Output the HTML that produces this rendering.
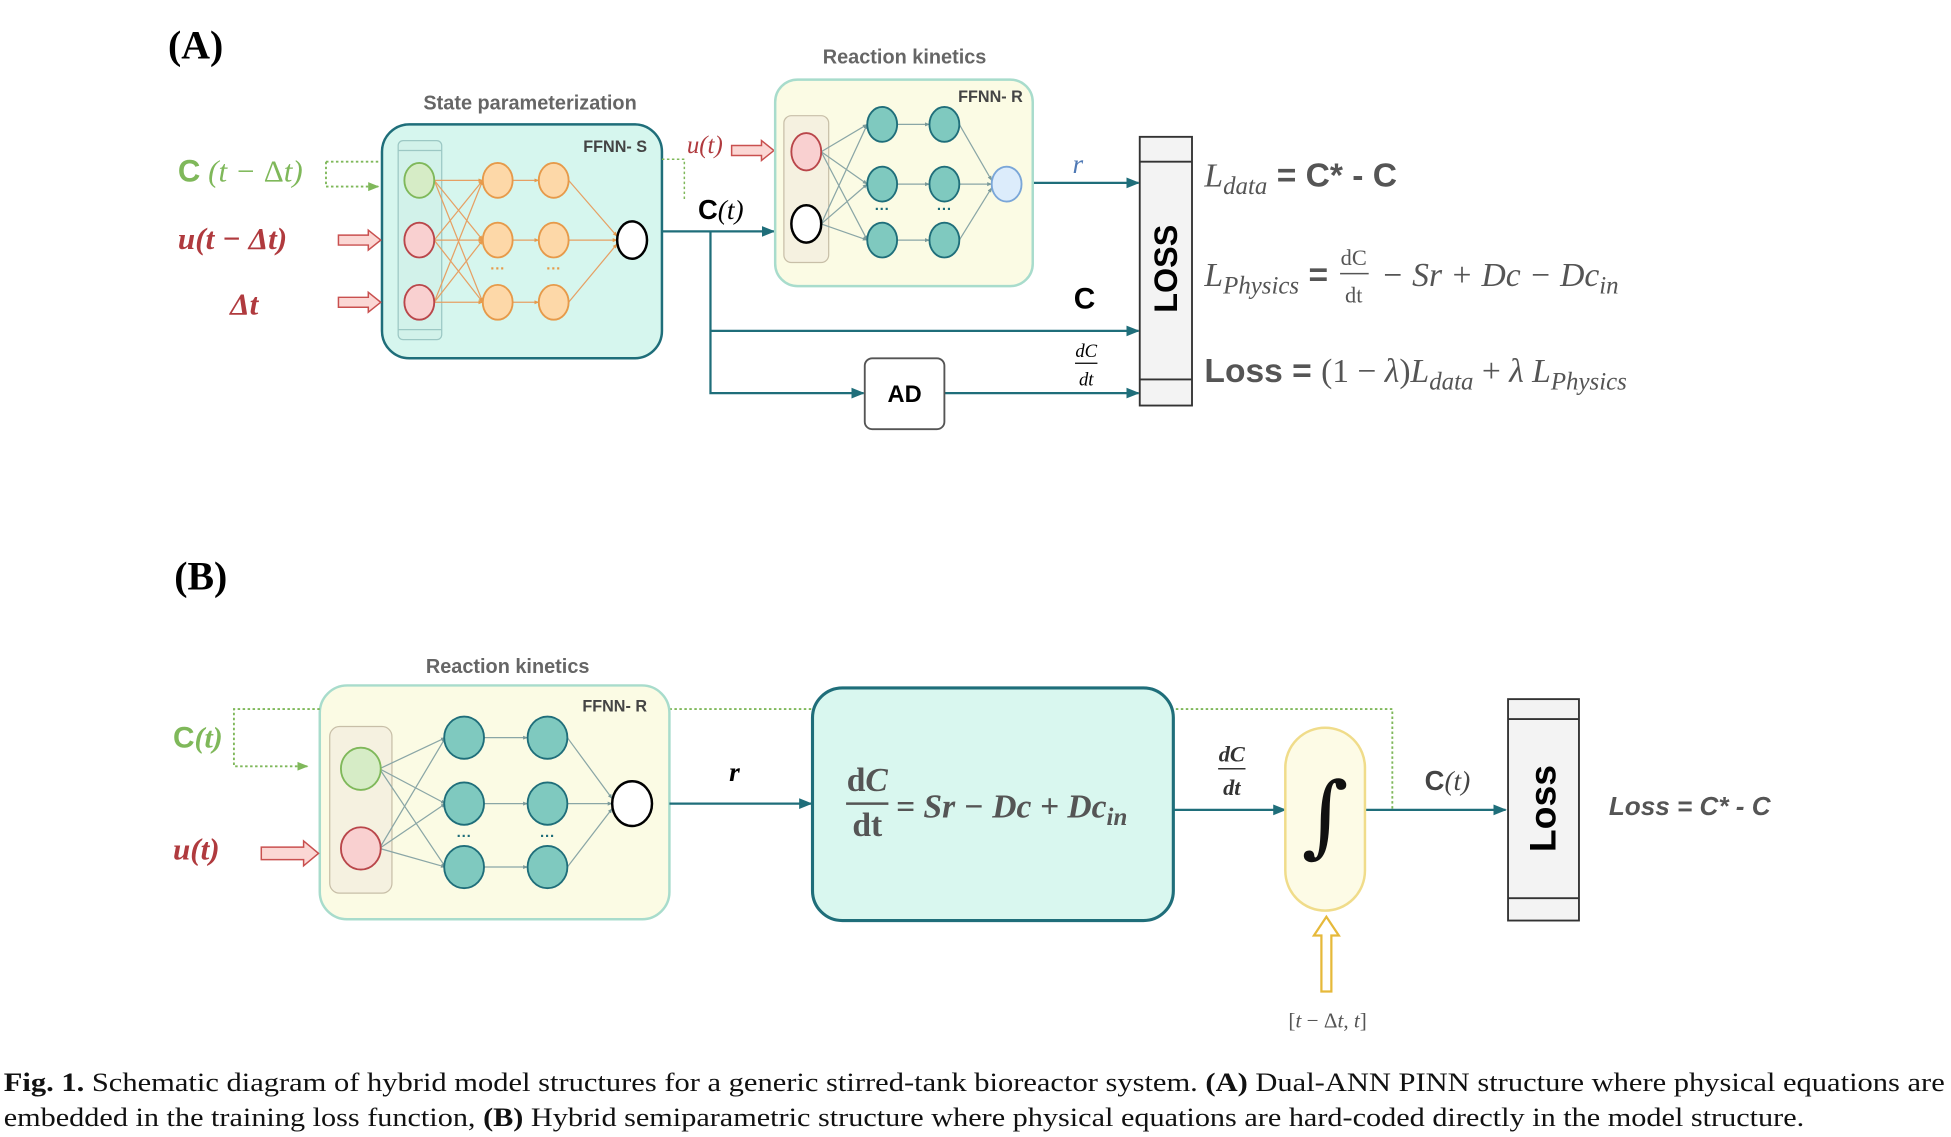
<!DOCTYPE html>
<html><head><meta charset="utf-8"><style>
html,body{margin:0;padding:0;background:#fff;}
svg{display:block;}
</style></head><body>
<svg width="1951" height="1137" viewBox="0 0 1568 914" preserveAspectRatio="none" xmlns="http://www.w3.org/2000/svg">
<defs>
<marker id="ah" viewBox="0 0 10 10" refX="9" refY="5" markerWidth="6" markerHeight="6" orient="auto"><path d="M0,1 L10,5 L0,9 z" fill="#1f6e7a"/></marker>
<marker id="ag" viewBox="0 0 10 10" refX="9" refY="5" markerWidth="6" markerHeight="6" orient="auto"><path d="M0,1 L10,5 L0,9 z" fill="#7fb85a"/></marker>
<marker id="ao" viewBox="0 0 10 10" refX="9" refY="5" markerWidth="4" markerHeight="4" orient="auto"><path d="M0,1 L10,5 L0,9 z" fill="#e69a4a"/></marker>
<marker id="at" viewBox="0 0 10 10" refX="9" refY="5" markerWidth="4" markerHeight="4" orient="auto"><path d="M0,1 L10,5 L0,9 z" fill="#7a9a9a"/></marker>
</defs>
<g font-family="Liberation Sans, sans-serif">
<!-- (A) -->
<text x="135" y="47" font-family="Liberation Serif, serif" font-weight="bold" font-size="32">(A)</text>
<text x="426" y="88" text-anchor="middle" font-size="16" font-weight="bold" fill="#666">State parameterization</text>
<rect x="307" y="100" width="225" height="188" rx="22" fill="#d6f6ee" stroke="#1f6e7a" stroke-width="2"/>
<text x="520" y="122" text-anchor="end" font-size="13" font-weight="bold" fill="#444">FFNN- S</text>
<rect x="320" y="113" width="35" height="160" rx="4" fill="#d2f2ea" stroke="#9cc8c4"/>
<line x1="320" y1="121" x2="355" y2="121" stroke="#9cc8c4"/>
<line x1="320" y1="265" x2="355" y2="265" stroke="#9cc8c4"/>
<g stroke="#e6a064" stroke-width="1" marker-end="url(#ao)">
<line x1="349" y1="145" x2="388" y2="145"/><line x1="349" y1="145" x2="388" y2="193"/><line x1="349" y1="145" x2="388" y2="243"/>
<line x1="349" y1="193" x2="388" y2="145"/><line x1="349" y1="193" x2="388" y2="193"/><line x1="349" y1="193" x2="388" y2="243"/>
<line x1="349" y1="243" x2="388" y2="145"/><line x1="349" y1="243" x2="388" y2="193"/><line x1="349" y1="243" x2="388" y2="243"/>
<line x1="412" y1="145" x2="433" y2="145"/><line x1="412" y1="193" x2="433" y2="193"/><line x1="412" y1="243" x2="433" y2="243"/>
<line x1="457" y1="145" x2="496" y2="190"/><line x1="457" y1="193" x2="496" y2="193"/><line x1="457" y1="243" x2="496" y2="196"/>
</g>
<ellipse cx="337" cy="145" rx="12" ry="14" fill="#d6ecc6" stroke="#7fb85a" stroke-width="1.5"/>
<ellipse cx="337" cy="193" rx="12" ry="14" fill="#f9d0d0" stroke="#b9464a" stroke-width="1.5"/>
<ellipse cx="337" cy="243" rx="12" ry="14" fill="#f9d0d0" stroke="#b9464a" stroke-width="1.5"/>
<g fill="#fdd8a8" stroke="#e69a4a" stroke-width="1.5">
<ellipse cx="400" cy="145" rx="12" ry="14"/><ellipse cx="400" cy="193" rx="12" ry="14"/><ellipse cx="400" cy="243" rx="12" ry="14"/>
<ellipse cx="445" cy="145" rx="12" ry="14"/><ellipse cx="445" cy="193" rx="12" ry="14"/><ellipse cx="445" cy="243" rx="12" ry="14"/>
</g>
<text x="400" y="220" text-anchor="middle" font-size="12" fill="#e69a4a" font-weight="bold">···</text>
<text x="445" y="220" text-anchor="middle" font-size="12" fill="#e69a4a" font-weight="bold">···</text>
<ellipse cx="508" cy="193" rx="12" ry="15" fill="#fff" stroke="#000" stroke-width="2"/>

<text x="143" y="146" font-size="25" fill="#7fb85a" font-family="Liberation Serif, serif"><tspan font-family="Liberation Sans, sans-serif" font-weight="bold">C</tspan> <tspan font-style="italic">(t −</tspan> Δ<tspan font-style="italic">t)</tspan></text>
<path d="M262,130 H305 M262,130 V150 H304" fill="none" stroke="#7fb85a" stroke-dasharray="2,2" stroke-width="1.5" marker-end="url(#ag)"/>
<text x="143" y="200" font-size="25" fill="#b03a3e" font-family="Liberation Serif, serif" font-style="italic" font-weight="bold">u(t − Δt)</text>
<text x="185" y="253" font-size="25" fill="#b03a3e" font-family="Liberation Serif, serif" font-style="italic" font-weight="bold">Δt</text>
<g fill="#fbd7d4" stroke="#c9504f" stroke-width="1.2">
<path d="M272,189 H296 V185 L306,193 L296,201 V197 H272 Z"/>
<path d="M272,239 H296 V235 L306,243 L296,251 V247 H272 Z"/>
<path d="M588,117 H612 V113 L622,121 L612,129 V125 H588 Z"/>
</g>
<path d="M532,128 H550 V162" fill="none" stroke="#7fb85a" stroke-dasharray="2,2" stroke-width="1.2"/>
<text x="552" y="123" font-size="20" fill="#b03a3e" font-family="Liberation Serif, serif" font-style="italic">u(t)</text>
<text x="561" y="176" font-size="22" font-weight="bold" fill="#000">C<tspan font-family="Liberation Serif, serif" font-style="italic" font-weight="normal">(t)</tspan></text>
<g fill="none" stroke="#1f6e7a" stroke-width="1.8">
<line x1="532" y1="186" x2="622" y2="186" marker-end="url(#ah)"/>
<path d="M571,186 V316 H694" marker-end="url(#ah)"/>
<line x1="571" y1="266" x2="915" y2="266" marker-end="url(#ah)"/>
<line x1="759" y1="316" x2="915" y2="316" marker-end="url(#ah)"/>
<line x1="830" y1="147" x2="915" y2="147" marker-end="url(#ah)"/>
</g>
<rect x="695" y="288" width="64" height="57" rx="6" fill="#fff" stroke="#555" stroke-width="1.5"/>
<text x="727" y="323" text-anchor="middle" font-size="19" font-weight="bold">AD</text>

<text x="727" y="51" text-anchor="middle" font-size="16" font-weight="bold" fill="#666">Reaction kinetics</text>
<rect x="623" y="64" width="207" height="166" rx="18" fill="#fbfbe4" stroke="#a8dccc" stroke-width="2"/>
<text x="822" y="82" text-anchor="end" font-size="13" font-weight="bold" fill="#444">FFNN- R</text>
<rect x="630" y="93" width="36" height="118" rx="6" fill="#f5f1e0" stroke="#c8bfa8"/>
<g stroke="#8aa6a6" stroke-width="1" marker-end="url(#at)">
<line x1="660" y1="122" x2="697" y2="100"/><line x1="660" y1="122" x2="697" y2="148"/><line x1="660" y1="122" x2="697" y2="193"/>
<line x1="660" y1="180" x2="697" y2="100"/><line x1="660" y1="180" x2="697" y2="148"/><line x1="660" y1="180" x2="697" y2="193"/>
<line x1="721" y1="100" x2="747" y2="100"/><line x1="721" y1="148" x2="747" y2="148"/><line x1="721" y1="193" x2="747" y2="193"/>
<line x1="771" y1="100" x2="797" y2="145"/><line x1="771" y1="148" x2="797" y2="148"/><line x1="771" y1="193" x2="797" y2="151"/>
</g>
<ellipse cx="648" cy="122" rx="12" ry="15" fill="#f9d0d0" stroke="#b9464a" stroke-width="1.5"/>
<ellipse cx="648" cy="180" rx="12" ry="15" fill="#fff" stroke="#000" stroke-width="2"/>
<g fill="#7fc9bf" stroke="#1f6e7a" stroke-width="1.5">
<ellipse cx="709" cy="100" rx="12" ry="14"/><ellipse cx="709" cy="148" rx="12" ry="14"/><ellipse cx="709" cy="193" rx="12" ry="14"/>
<ellipse cx="759" cy="100" rx="12" ry="14"/><ellipse cx="759" cy="148" rx="12" ry="14"/><ellipse cx="759" cy="193" rx="12" ry="14"/>
</g>
<text x="709" y="172" text-anchor="middle" font-size="12" fill="#1f6e7a" font-weight="bold">···</text>
<text x="759" y="172" text-anchor="middle" font-size="12" fill="#1f6e7a" font-weight="bold">···</text>
<ellipse cx="809" cy="148" rx="12" ry="14" fill="#dcecfb" stroke="#7aa6d8" stroke-width="1.5"/>
<text x="862" y="139" font-size="22" fill="#4f79b5" font-family="Liberation Serif, serif" font-style="italic">r</text>

<text x="863" y="248" font-size="24" font-weight="bold">C</text>
<text x="873" y="287" text-anchor="middle" font-size="15" font-style="italic" font-family="Liberation Serif, serif">dC</text>
<line x1="864" y1="292" x2="882" y2="292" stroke="#000"/>
<text x="873" y="310" text-anchor="middle" font-size="15" font-style="italic" font-family="Liberation Serif, serif">dt</text>

<rect x="916" y="110" width="42" height="216" fill="#f3f3f3" stroke="#333" stroke-width="1.5"/>
<line x1="916" y1="130" x2="958" y2="130" stroke="#333" stroke-width="1.5"/>
<line x1="916" y1="305" x2="958" y2="305" stroke="#333" stroke-width="1.5"/>
<text transform="translate(946,216) rotate(-90)" text-anchor="middle" font-size="26" font-weight="bold">LOSS</text>

<g fill="#555" font-family="Liberation Serif, serif" font-size="27">
<text x="968" y="150"><tspan font-style="italic">L</tspan><tspan font-size="20" dy="6" font-style="italic">data</tspan><tspan dy="-6" font-family="Liberation Sans, sans-serif" font-weight="bold"> = C* - C</tspan></text>
<text x="968" y="230"><tspan font-style="italic">L</tspan><tspan font-size="20" dy="6" font-style="italic">Physics</tspan><tspan dy="-6" font-family="Liberation Sans, sans-serif" font-weight="bold"> =</tspan></text>
<text x="1088" y="213" text-anchor="middle" font-size="18">dC</text>
<line x1="1077" y1="220" x2="1100" y2="220" stroke="#555" stroke-width="1.2"/>
<text x="1088" y="243" text-anchor="middle" font-size="18">dt</text>
<text x="1110" y="230" font-style="italic">− Sr + Dc − Dc<tspan font-size="20" dy="6">in</tspan></text>
<text x="968" y="307"><tspan font-family="Liberation Sans, sans-serif" font-weight="bold">Loss = </tspan>(1 − <tspan font-style="italic">λ</tspan>)<tspan font-style="italic">L</tspan><tspan font-size="20" dy="6" font-style="italic">data</tspan><tspan dy="-6"> + </tspan><tspan font-style="italic">λ L</tspan><tspan font-size="20" dy="6" font-style="italic">Physics</tspan></text>
</g>

<!-- (B) -->
<text x="140" y="474" font-family="Liberation Serif, serif" font-weight="bold" font-size="32">(B)</text>
<text x="408" y="541" text-anchor="middle" font-size="16" font-weight="bold" fill="#666">Reaction kinetics</text>
<path d="M538,570 H653 M945,570 H1119 V650" fill="none" stroke="#7fb85a" stroke-dasharray="2,2" stroke-width="1.5"/>
<rect x="257" y="551" width="281" height="188" rx="22" fill="#fbfbe4" stroke="#a8dccc" stroke-width="2"/>
<text x="520" y="572" text-anchor="end" font-size="13" font-weight="bold" fill="#444">FFNN- R</text>
<rect x="265" y="584" width="50" height="134" rx="8" fill="#f5f1e0" stroke="#c8bfa8"/>
<g stroke="#8aa6a6" stroke-width="1" marker-end="url(#at)">
<line x1="305" y1="618" x2="358" y2="593"/><line x1="305" y1="618" x2="358" y2="646"/><line x1="305" y1="618" x2="358" y2="697"/>
<line x1="305" y1="682" x2="358" y2="593"/><line x1="305" y1="682" x2="358" y2="646"/><line x1="305" y1="682" x2="358" y2="697"/>
<line x1="389" y1="593" x2="424" y2="593"/><line x1="389" y1="646" x2="424" y2="646"/><line x1="389" y1="697" x2="424" y2="697"/>
<line x1="456" y1="593" x2="492" y2="642"/><line x1="456" y1="646" x2="492" y2="646"/><line x1="456" y1="697" x2="492" y2="650"/>
</g>
<ellipse cx="290" cy="618" rx="16" ry="17" fill="#d6ecc6" stroke="#7fb85a" stroke-width="1.5"/>
<ellipse cx="290" cy="682" rx="16" ry="17" fill="#f9d0d0" stroke="#b9464a" stroke-width="1.5"/>
<g fill="#7fc9bf" stroke="#1f6e7a" stroke-width="1.5">
<ellipse cx="373" cy="593" rx="16" ry="17"/><ellipse cx="373" cy="646" rx="16" ry="17"/><ellipse cx="373" cy="697" rx="16" ry="17"/>
<ellipse cx="440" cy="593" rx="16" ry="17"/><ellipse cx="440" cy="646" rx="16" ry="17"/><ellipse cx="440" cy="697" rx="16" ry="17"/>
</g>
<text x="373" y="676" text-anchor="middle" font-size="12" fill="#1f6e7a" font-weight="bold">···</text>
<text x="440" y="676" text-anchor="middle" font-size="12" fill="#1f6e7a" font-weight="bold">···</text>
<ellipse cx="508" cy="646" rx="16" ry="18" fill="#fff" stroke="#000" stroke-width="2"/>

<text x="139" y="601" font-size="24" fill="#7fb85a" font-family="Liberation Serif, serif" font-weight="bold"><tspan font-family="Liberation Sans, sans-serif">C</tspan><tspan font-style="italic">(t)</tspan></text>
<path d="M257,570 H188 V616 H247" fill="none" stroke="#7fb85a" stroke-dasharray="2,2" stroke-width="1.5" marker-end="url(#ag)"/>
<text x="139" y="691" font-size="25" fill="#b03a3e" font-family="Liberation Serif, serif" font-style="italic" font-weight="bold">u(t)</text>
<path d="M210,681 H244 V676 L256,686 L244,696 V691 H210 Z" fill="#fbd7d4" stroke="#c9504f" stroke-width="1.2"/>

<g fill="none" stroke="#1f6e7a" stroke-width="1.8">
<line x1="538" y1="646" x2="652" y2="646" marker-end="url(#ah)"/>
<line x1="943" y1="651" x2="1033" y2="651" marker-end="url(#ah)"/>
<line x1="1097" y1="651" x2="1210" y2="651" marker-end="url(#ah)"/>
</g>
<text x="586" y="628" font-size="22" font-family="Liberation Serif, serif" font-style="italic" font-weight="bold">r</text>
<rect x="653" y="553" width="290" height="187" rx="24" fill="#d9f7ef" stroke="#1f6e7a" stroke-width="2.5"/>
<g fill="#555" font-family="Liberation Serif, serif" font-weight="bold">
<text x="697" y="636" text-anchor="middle" font-size="27">d<tspan font-style="italic">C</tspan></text>
<line x1="680" y1="646" x2="714" y2="646" stroke="#555" stroke-width="2"/>
<text x="697" y="672" text-anchor="middle" font-size="27">dt</text>
<text x="720" y="657" font-size="27" font-style="italic">= Sr − Dc + Dc<tspan font-size="20" dy="6">in</tspan></text>
<text x="990" y="612" text-anchor="middle" font-size="18" font-style="italic" fill="#333">dC</text>
<line x1="979" y1="618" x2="1001" y2="618" stroke="#333" stroke-width="1.2"/>
<text x="990" y="639" text-anchor="middle" font-size="18" font-style="italic" fill="#333">dt</text>
</g>
<rect x="1033" y="585" width="64" height="147" rx="32" fill="#fdfbe6" stroke="#f0dc8a" stroke-width="2"/>
<text x="1065" y="680" text-anchor="middle" font-size="72" font-family="DejaVu Serif, serif" fill="#111">∫</text>
<text x="1145" y="635" font-size="22" fill="#444" font-family="Liberation Serif, serif"><tspan font-family="Liberation Sans, sans-serif" font-weight="bold">C</tspan><tspan font-style="italic">(t)</tspan></text>
<path d="M1062,797 V752 H1056 L1066,737 L1076,752 H1070 V797 Z" fill="#fff" stroke="#e6b93a" stroke-width="1.8"/>
<text x="1067" y="826" text-anchor="middle" font-size="17" fill="#555" font-family="Liberation Serif, serif">[<tspan font-style="italic">t</tspan> − Δ<tspan font-style="italic">t</tspan>, <tspan font-style="italic">t</tspan>]</text>

<rect x="1212" y="562" width="57" height="178" fill="#f3f3f3" stroke="#333" stroke-width="1.5"/>
<line x1="1212" y1="578" x2="1269" y2="578" stroke="#333" stroke-width="1.5"/>
<line x1="1212" y1="722" x2="1269" y2="722" stroke="#333" stroke-width="1.5"/>
<text transform="translate(1250,650) rotate(-90)" text-anchor="middle" font-size="30" font-weight="bold">Loss</text>
<text x="1293" y="655" font-size="21" font-weight="bold" font-style="italic" fill="#555">Loss = C* - C</text>
</g>
<g font-family="Liberation Serif, serif" font-size="21" fill="#111">
<text x="3" y="877" textLength="1560" lengthAdjust="spacingAndGlyphs"><tspan font-weight="bold">Fig. 1.</tspan> Schematic diagram of hybrid model structures for a generic stirred-tank bioreactor system. <tspan font-weight="bold">(A)</tspan> Dual-ANN PINN structure where physical equations are</text>
<text x="3" y="905" textLength="1447" lengthAdjust="spacingAndGlyphs">embedded in the training loss function, <tspan font-weight="bold">(B)</tspan> Hybrid semiparametric structure where physical equations are hard-coded directly in the model structure.</text>
</g>
</svg>
</body></html>
